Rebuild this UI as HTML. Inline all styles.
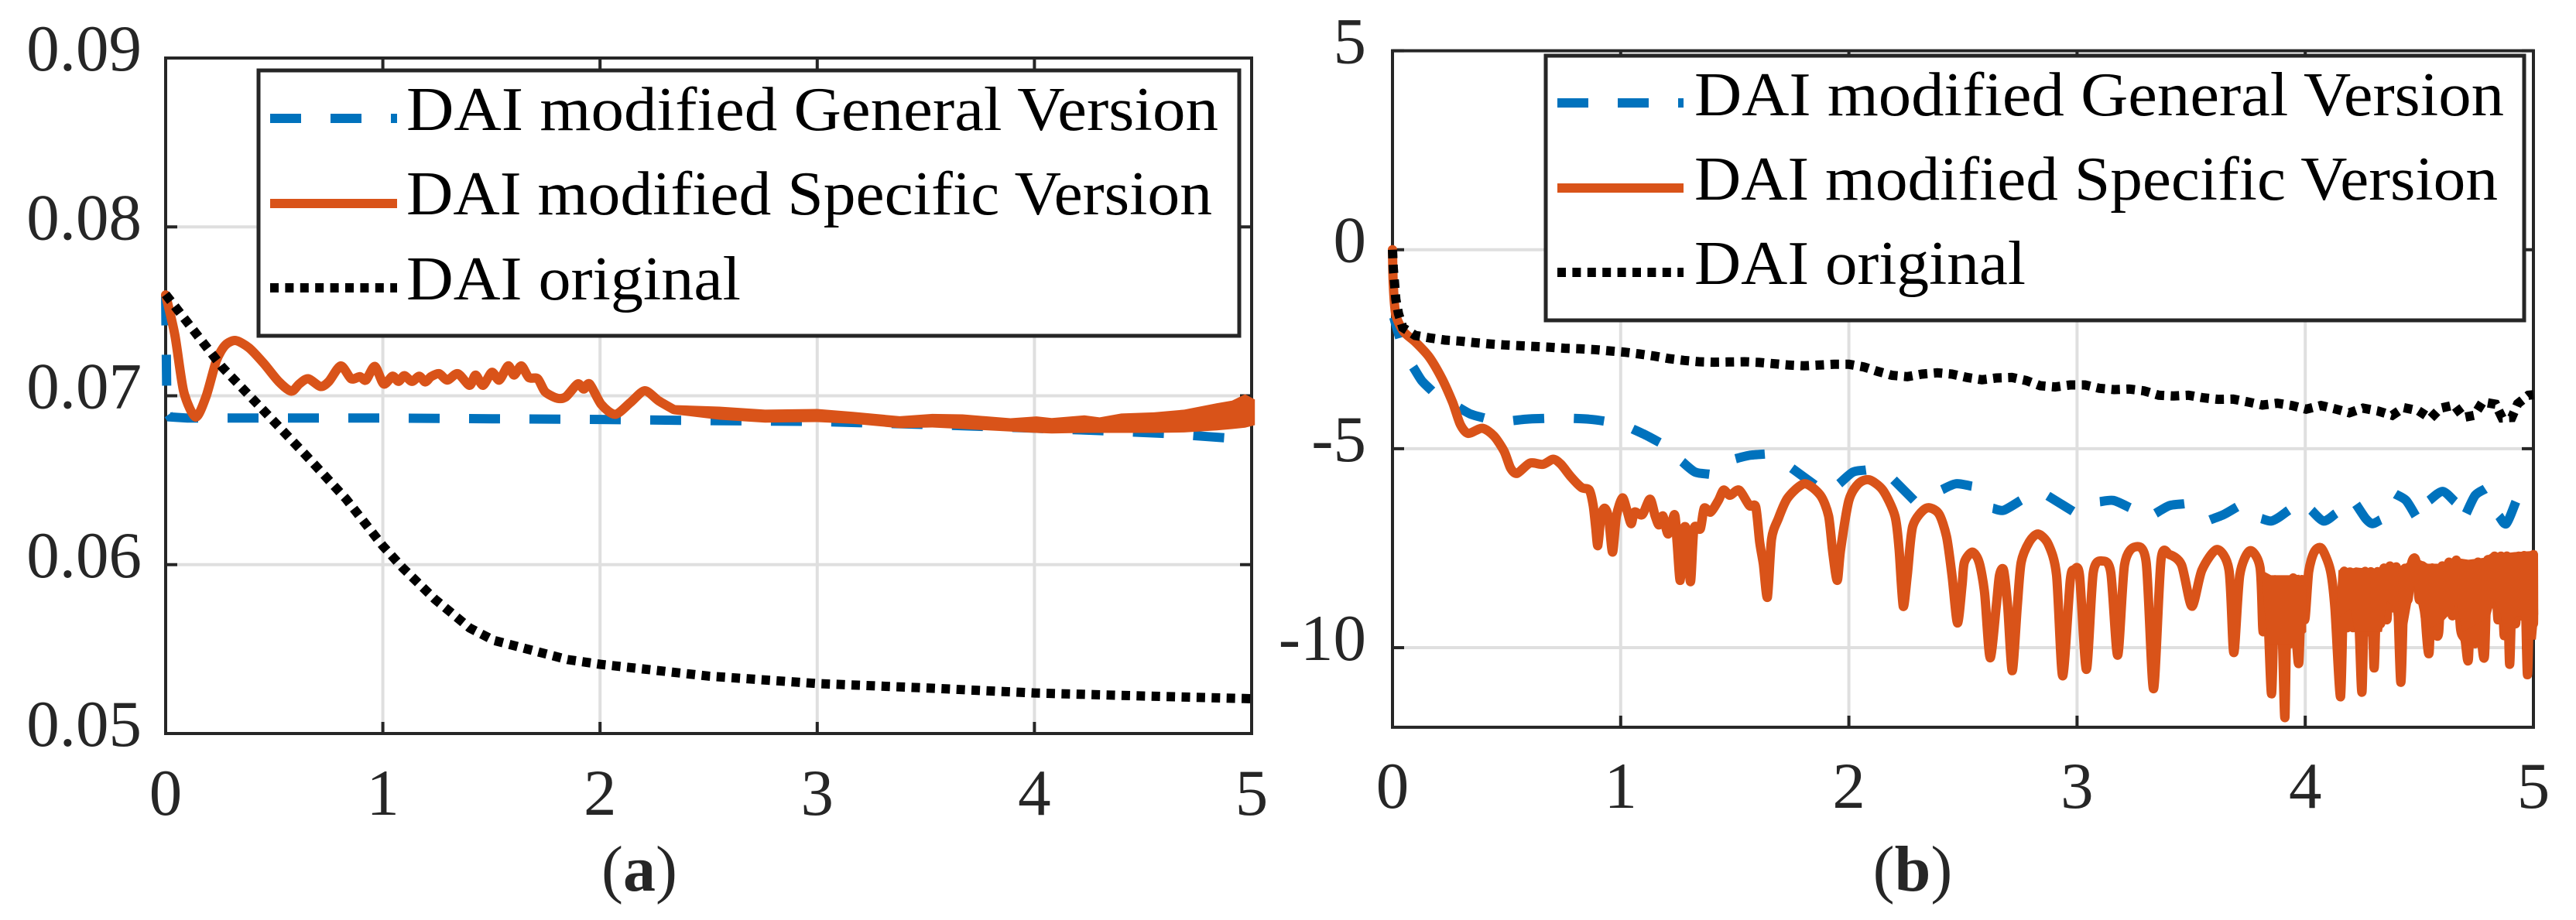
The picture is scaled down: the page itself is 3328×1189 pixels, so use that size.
<!DOCTYPE html>
<html lang="en">
<head>
<meta charset="utf-8">
<title>DAI comparison charts</title>
<style>
html,body{margin:0;padding:0;background:#fff;}
svg{display:block;}
text{font-family:"Liberation Serif",serif;}
.tick{font-size:85px;fill:#262626;}
.leg{font-size:80px;fill:#000;}
.cap{font-size:84px;fill:#262626;}
</style>
</head>
<body>
<svg id="fig" xmlns="http://www.w3.org/2000/svg" width="3328" height="1189" viewBox="0 0 3328 1189">
<g id="panelA"></g>
<g id="panelB"></g>

<g>
<rect x="334" y="91" width="1267" height="343" fill="#fff" stroke="#262626" stroke-width="5"/>
<line x1="349" y1="153" x2="513" y2="153" stroke="#0072BD" stroke-width="12" stroke-dasharray="40 38"/>
<text class="leg" x="525" y="168" textLength="1049" lengthAdjust="spacingAndGlyphs">DAI modified General Version</text>
<line x1="349" y1="263" x2="513" y2="263" stroke="#D95319" stroke-width="12"/>
<text class="leg" x="525" y="277" textLength="1041" lengthAdjust="spacingAndGlyphs">DAI modified Specific Version</text>
<line x1="349" y1="372" x2="513" y2="372" stroke="#000" stroke-width="12" stroke-dasharray="11 8.4"/>
<text class="leg" x="525" y="387" textLength="432" lengthAdjust="spacingAndGlyphs">DAI original</text>
</g>

<g>
<rect x="1997" y="72" width="1264" height="342" fill="#fff" stroke="#262626" stroke-width="5"/>
<line x1="2012" y1="133" x2="2175" y2="133" stroke="#0072BD" stroke-width="12" stroke-dasharray="40 38"/>
<text class="leg" x="2189" y="149" textLength="1046" lengthAdjust="spacingAndGlyphs">DAI modified General Version</text>
<line x1="2012" y1="243" x2="2175" y2="243" stroke="#D95319" stroke-width="12"/>
<text class="leg" x="2189" y="258" textLength="1038" lengthAdjust="spacingAndGlyphs">DAI modified Specific Version</text>
<line x1="2012" y1="352" x2="2175" y2="352" stroke="#000" stroke-width="12" stroke-dasharray="11 8.4"/>
<text class="leg" x="2189" y="367" textLength="428" lengthAdjust="spacingAndGlyphs">DAI original</text>
</g>

<text class="cap" x="826" y="1151" text-anchor="middle">(<tspan font-weight="bold">a</tspan>)</text>
<text class="cap" x="2471" y="1151" text-anchor="middle">(<tspan font-weight="bold">b</tspan>)</text>
</svg>

<script>
var xTicks = [0, 1, 2, 3, 4, 5];
var yTicksA = [0.05, 0.06, 0.07, 0.08, 0.09];
var yTickLabelsA = ["0.05", "0.06", "0.07", "0.08", "0.09"];
var yTicksB = [-10, -5, 0, 5];
var yTickLabelsB = ["-10", "-5", "0", "5"];

var generalA = [[0,.0760],[.006,.0690],[.02,.06875],[.1,.06868],[1,.06868],[2,.0686],[2.5,.06853],[3,.06848],[3.5,.0683],[4,.06808],[4.3,.06794],[4.6,.06777],[4.8,.06758],[5,.0674]];

var specificA = [[0,.07597],[.0425,.0736],[.0834,.07024],[.1379,.06874],[.1857,.06994],[.2334,.07207],[.2743,.07299],[.3221,.07327],[.3834,.07284],[.4516,.07192],[.5198,.07085],[.5785,.07027],[.6153,.0707],[.6562,.07101],[.7135,.07055],[.7517,.07085],[.8062,.07177],[.854,.07101],[.8949,.07113],[.9222,.07093],[.9631,.07174],[1.004,.0707],[1.045,.07116],[1.072,.07085],[1.099,.07119],[1.134,.07085],[1.168,.07116],[1.195,.07082],[1.222,.07113],[1.259,.07131],[1.297,.07093],[1.345,.07131],[1.399,.07062],[1.427,.07123],[1.461,.07062],[1.502,.07139],[1.536,.07093],[1.577,.07177],[1.604,.07123],[1.638,.07177],[1.672,.07108],[1.713,.07101],[1.747,.07024],[1.802,.06986],[1.843,.06994],[1.897,.0707],[1.925,.0704],[1.952,.0707],[2.006,.06948],[2.07,.0689],[2.14,.0696],[2.206,.0703],[2.27,.0697],[2.34,.06918]];

var specificBandUpperA = [[2.34,.06945],[2.55,.06936],[2.76,.06918],[3,.06922],[3.165,.06905],[3.38,.06879],[3.53,.06893],[3.67,.0689],[3.89,.06867],[4.01,.06878],[4.08,.06868],[4.23,.06884],[4.3,.06872],[4.4,.06895],[4.55,.06902],[4.69,.06918],[4.84,.06956],[4.91,.06971],[4.97,.07009],[5.015,.06978]];
var specificBandLowerA = [[2.34,.0689],[2.55,.06858],[2.76,.06841],[3,.06844],[3.165,.06834],[3.38,.06808],[3.53,.06812],[3.67,.06803],[3.89,.06788],[4.01,.0678],[4.08,.06777],[4.23,.0678],[4.3,.0678],[4.4,.0678],[4.55,.0678],[4.69,.06783],[4.84,.06795],[4.91,.06803],[4.97,.06811],[5.015,.06826]];

var originalA = [[0,.0760],[.26,.0717],[.453,.0691],[.64,.06656],[.83,.0639],[1,.06111],[1.09,.05983],[1.24,.05795],[1.4,.05625],[1.51,.05552],[1.85,.05438],[2,.0541],[2.5,.0534],[3,.05296],[3.5,.0527],[4,.0524],[4.5,.05222],[5,.05206]];

var generalB = [[.0056,-1.699],[.0316,-2.218],null,[.0904,-2.944],[.1277,-3.287],[.173,-3.546],null,[.2917,-3.968],[.3426,-4.13],[.4014,-4.227],null,[.5291,-4.292],[.597,-4.253],[.6648,-4.24],null,[.7948,-4.24],[.8627,-4.259],[.9271,-4.305],null,[1.0527,-4.505],[1.1114,-4.661],[1.1703,-4.843],null,[1.2697,-5.329],[1.3263,-5.588],[1.3885,-5.64],null,[1.5038,-5.251],[1.5637,-5.167],[1.6316,-5.134],null,[1.75,-5.491],[1.851,-5.912],null,[1.958,-5.879],[2.018,-5.588],[2.075,-5.536],null,[2.196,-5.782],[2.286,-6.301],null,[2.408,-6.029],[2.47,-5.88],[2.539,-5.944],null,[2.631,-6.495],[2.678,-6.547],[2.753,-6.301],null,[2.872,-6.184],[2.982,-6.573],null,[3.1,-6.333],[3.16,-6.301],[3.231,-6.482],null,[3.344,-6.625],[3.405,-6.43],[3.47,-6.385],null,[3.583,-6.787],[3.642,-6.657],[3.701,-6.463],null,[3.808,-6.755],[3.85,-6.819],[3.885,-6.722],[3.927,-6.547],null,[4.027,-6.547],[4.081,-6.819],[4.134,-6.625],null,[4.223,-6.398],[4.265,-6.755],[4.294,-6.884],[4.33,-6.787],null,[4.395,-6.139],[4.442,-6.301],[4.484,-6.69],null,[4.543,-6.301],[4.602,-6.074],[4.656,-6.333],null,[4.706,-6.625],[4.745,-6.171],[4.789,-6.009],null,[4.849,-6.69],[4.881,-6.884],[4.923,-6.333]];

var specificB = [[0,0],[.0033,-.857],[.0147,-1.635],[.0486,-2.056],[.0995,-2.315],[.1617,-2.704],[.2182,-3.255],[.2634,-3.838],[.2973,-4.389],[.3313,-4.616],[.3934,-4.486],[.4443,-4.68],[.4895,-5.069],[.5178,-5.491],[.5461,-5.62],[.6026,-5.361],[.6592,-5.393],[.7044,-5.264],[.7383,-5.393],[.7835,-5.718],[.8288,-5.977],[.8627,-6.041],[.8796,-6.43],[.891,-7.014],[.9,-7.435],[.9136,-6.69],[.9305,-6.495],[.9475,-6.754],[.9644,-7.597],[.9814,-6.69],[1.0074,-6.236],[1.0266,-6.528],[1.0459,-6.885],[1.0606,-6.592],[1.0945,-6.657],[1.1284,-6.268],[1.151,-6.69],[1.168,-6.916],[1.185,-6.69],[1.208,-7.143],[1.236,-6.657],[1.247,-7.338],[1.261,-8.31],[1.275,-7.078],[1.289,-7.078],[1.306,-8.342],[1.321,-7.014],[1.349,-7.014],[1.366,-6.495],[1.394,-6.592],[1.428,-6.301],[1.451,-6.041],[1.479,-6.171],[1.519,-6.041],[1.564,-6.43],[1.592,-6.463],[1.609,-7.338],[1.625,-7.9],[1.643,-8.731],[1.661,-7.273],[1.691,-6.755],[1.732,-6.236],[1.806,-5.879],[1.875,-6.171],[1.911,-6.69],[1.929,-7.597],[1.949,-8.31],[1.964,-7.532],[2,-6.301],[2.042,-5.879],[2.089,-5.782],[2.149,-6.042],[2.202,-6.69],[2.22,-7.532],[2.238,-8.958],[2.256,-8.18],[2.28,-6.949],[2.339,-6.495],[2.393,-6.625],[2.428,-7.208],[2.452,-8.18],[2.476,-9.379],[2.496,-8.44],[2.506,-7.856],[2.541,-7.597],[2.571,-7.856],[2.595,-8.634],[2.619,-10.254],[2.646,-8.958],[2.66,-8.18],[2.678,-8.051],[2.696,-8.958],[2.716,-10.578],[2.738,-8.958],[2.755,-7.856],[2.791,-7.338],[2.829,-7.143],[2.874,-7.403],[2.91,-8.18],[2.937,-10.708],[2.97,-8.31],[2.987,-8.051],[3.011,-8.18],[3.041,-10.546],[3.071,-8.115],[3.112,-7.824],[3.148,-8.115],[3.178,-10.19],[3.208,-7.921],[3.255,-7.467],[3.303,-7.856],[3.335,-11.032],[3.368,-7.791],[3.405,-7.662],[3.458,-7.921],[3.503,-8.958],[3.547,-8.051],[3.613,-7.532],[3.666,-8.051],[3.687,-10.124],[3.713,-8.18],[3.757,-7.564],[3.802,-7.986],[3.815,-9.6],[3.83,-8.3],[3.852,-11.16],[3.867,-8.31],[3.878,-9.7],[3.888,-8.3],[3.9,-9.8],[3.911,-11.745],[3.922,-8.4],[3.935,-9.9],[3.947,-8.25],[3.958,-9.5],[3.972,-10.38],[3.985,-8.3],[3.998,-9.3],[4.015,-8.1],[4.039,-7.6],[4.071,-7.5],[4.11,-8.05],[4.13,-9],[4.155,-11.23],[4.17,-8.1],[4.183,-9.5],[4.196,-8.1],[4.21,-9.5],[4.224,-8.1],[4.237,-9.6],[4.249,-11.1],[4.262,-8.1],[4.275,-9.6],[4.288,-8.1],[4.302,-10.51],[4.316,-8.1],[4.33,-9.4],[4.345,-8],[4.358,-9.3],[4.371,-7.95],[4.385,-9],[4.4,-8],[4.419,-10.87],[4.435,-8.05],[4.45,-8.8],[4.465,-7.9],[4.484,-7.8],[4.5,-8.8],[4.515,-7.95],[4.528,-9.4],[4.543,-10.12],[4.556,-8],[4.57,-9.5],[4.585,-9.6],[4.6,-7.95],[4.615,-9],[4.63,-7.85],[4.645,-9.2],[4.662,-7.8],[4.68,-9.5],[4.7,-9.8],[4.715,-10.29],[4.73,-8.2],[4.745,-9.9],[4.757,-7.85],[4.772,-9.7],[4.786,-10.19],[4.8,-7.8],[4.815,-8.9],[4.83,-7.7],[4.845,-9.3],[4.858,-7.7],[4.872,-9.7],[4.884,-7.7],[4.896,-10.42],[4.91,-7.75],[4.922,-9.4],[4.935,-7.7],[4.947,-9.2],[4.96,-7.7],[4.974,-10.68],[4.987,-7.7],[5,-9.4],[5,-7.66]];

var specificBandEarlyB = [[3.808,-8.051],[3.85,-8.18],[3.945,-8.18],[3.974,-8.167],[4.004,-8.5],[4.004,-9.606],[3.945,-9.93],[3.838,-9.93],[3.82,-8.958]];

var specificBandUpperB = [[4.146,-8.051],[4.229,-7.986],[4.336,-8.051],[4.371,-7.856],[4.425,-7.953],[4.478,-7.727],[4.537,-7.889],[4.602,-7.889],[4.656,-7.739],[4.715,-7.791],[4.786,-7.739],[4.822,-7.597],[4.869,-7.629],[4.917,-7.597],[5.015,-7.565]];
var specificBandLowerB = [[4.134,-9.282],[4.199,-9.023],[4.217,-9.606],[4.336,-9.606],[4.359,-8.828],[4.383,-8.958],[4.395,-9.606],[4.448,-9.411],[4.478,-8.439],[4.502,-9.088],[4.514,-9.606],[4.602,-9.347],[4.644,-9.088],[4.662,-8.861],[4.691,-9.606],[4.81,-9.217],[4.828,-8.828],[4.857,-9.152],[4.869,-9.8],[4.923,-9.217],[4.946,-9.217],[4.952,-9.8],[5.011,-9.8],[5.021,-9.152]];

var originalB = [[0,0],[.0034,-.468],[.009,-.857],[.0147,-1.246],[.026,-1.602],[.0452,-1.958],[.0995,-2.153],[.165,-2.218],[.2295,-2.27],[.295,-2.295],[.3595,-2.334],[.425,-2.367],[.492,-2.393],[.5574,-2.412],[.623,-2.432],[.69,-2.451],[.755,-2.477],[.821,-2.49],[.885,-2.509],[.951,-2.542],[1.016,-2.574],[1.083,-2.62],[1.148,-2.672],[1.213,-2.736],[1.278,-2.782],[1.343,-2.814],[1.409,-2.827],[1.474,-2.821],[1.542,-2.814],[1.607,-2.833],[1.673,-2.866],[1.738,-2.898],[1.804,-2.918],[1.869,-2.898],[1.935,-2.879],[2,-2.879],[2.065,-2.944],[2.128,-3.06],[2.19,-3.157],[2.256,-3.19],[2.321,-3.125],[2.387,-3.093],[2.452,-3.125],[2.518,-3.209],[2.583,-3.268],[2.646,-3.222],[2.714,-3.209],[2.777,-3.287],[2.839,-3.417],[2.904,-3.449],[2.97,-3.397],[3.035,-3.397],[3.098,-3.482],[3.162,-3.514],[3.228,-3.501],[3.293,-3.546],[3.358,-3.657],[3.423,-3.676],[3.488,-3.657],[3.553,-3.721],[3.618,-3.76],[3.684,-3.754],[3.749,-3.825],[3.812,-3.903],[3.877,-3.857],[3.942,-3.916],[4.004,-4.006],[4.069,-3.916],[4.132,-4],[4.193,-4.097],[4.253,-3.981],[4.318,-4.052],[4.381,-4.162],[4.431,-3.968],[4.496,-4.045],[4.549,-4.24],[4.593,-3.981],[4.653,-3.903],[4.694,-4.214],[4.741,-4.162],[4.777,-3.825],[4.834,-3.883],[4.863,-4.227],[4.905,-4.214],[4.931,-3.87],[4.978,-3.657],[5,-3.644]];

var NS = 'http://www.w3.org/2000/svg';

function mk(parent, tag, attrs) {
  var el = document.createElementNS(NS, tag);
  for (var k in attrs) el.setAttribute(k, attrs[k]);
  parent.appendChild(el);
  return el;
}

function segmentPath(pts, smooth) {
  var d = 'M' + pts[0][0].toFixed(1) + ' ' + pts[0][1].toFixed(1);
  for (var i = 1; i < pts.length; i++) {
    var p1 = pts[i - 1], p2 = pts[i];
    if (smooth) {
      var p0 = pts[i - 2] || p1, p3 = pts[i + 1] || p2, k = 0.13;
      d += 'C' + (p1[0] + (p2[0] - p0[0]) * k).toFixed(1) + ' ' + (p1[1] + (p2[1] - p0[1]) * k).toFixed(1) + ' ' +
        (p2[0] - (p3[0] - p1[0]) * k).toFixed(1) + ' ' + (p2[1] - (p3[1] - p1[1]) * k).toFixed(1) + ' ' +
        p2[0].toFixed(1) + ' ' + p2[1].toFixed(1);
    } else {
      d += 'L' + p2[0].toFixed(1) + ' ' + p2[1].toFixed(1);
    }
  }
  return d;
}

function drawPanel(g, box, yDomain, yTicks, yLabels, labelRight, xLabelBase, series) {
  function sx(t) { return box.left + (t - xTicks[0]) / (xTicks[xTicks.length - 1] - xTicks[0]) * (box.right - box.left); }
  function sy(v) { return box.bottom - (v - yDomain[0]) / (yDomain[1] - yDomain[0]) * (box.bottom - box.top); }

  xTicks.forEach(function (t) {
    if (t === xTicks[0] || t === xTicks[xTicks.length - 1]) return;
    var l = mk(g, 'line', {x1: sx(t), x2: sx(t), y1: box.top, y2: box.bottom, stroke: '#dfdfdf', 'stroke-width': 4});
    
    
  });
  yTicks.forEach(function (v) {
    if (v === yDomain[0] || v === yDomain[1]) return;
    var l = mk(g, 'line', {x1: box.left, x2: box.right, y1: sy(v), y2: sy(v), stroke: '#dfdfdf', 'stroke-width': 4});
    
    
  });

  var frame = mk(g, 'rect', {x: box.left, y: box.top, width: box.right - box.left, height: box.bottom - box.top, fill: 'none', stroke: '#262626', 'stroke-width': 4});
  
  

  xTicks.forEach(function (t) {
    var bottomTick = mk(g, 'line', {x1: sx(t), x2: sx(t), y1: box.bottom, y2: box.bottom - 15, stroke: '#262626', 'stroke-width': 4});
    
    
    var topTick = mk(g, 'line', {x1: sx(t), x2: sx(t), y1: box.top, y2: box.top + 15, stroke: '#262626', 'stroke-width': 4});
    
    
    var label = mk(g, 'text', {x: sx(t), y: xLabelBase, 'text-anchor': 'middle', 'class': 'tick'});
    label.textContent = String(t);
    
    
  });

  yTicks.forEach(function (v, i) {
    var leftTick = mk(g, 'line', {x1: box.left, x2: box.left + 15, y1: sy(v), y2: sy(v), stroke: '#262626', 'stroke-width': 4});
    
    
    var rightTick = mk(g, 'line', {x1: box.right, x2: box.right - 15, y1: sy(v), y2: sy(v), stroke: '#262626', 'stroke-width': 4});
    
    
    var label = mk(g, 'text', {x: labelRight, y: sy(v) + 16, 'text-anchor': 'end', 'class': 'tick'});
    label.textContent = yLabels[i];
    
    
  });

  series.forEach(function (s) {
    var d = '', run = [];
    s.data.forEach(function (p) {
      if (p === null) {
        d += segmentPath(run, s.smooth);
        run = [];
      } else {
        run.push([sx(p[0]), sy(p[1])]);
      }
    });
    if (run.length) d += segmentPath(run, s.smooth);
    if (s.band) d += 'Z';
    var path = mk(g, 'path', {d: d, fill: s.band ? s.color : 'none', stroke: s.band ? 'none' : s.color, 'stroke-linejoin': s.butt ? 'miter' : 'round', 'stroke-linecap': s.butt ? 'butt' : 'round'});
    if (!s.band) path.setAttribute('stroke-width', s.width);
    if (s.dash) path.setAttribute('stroke-dasharray', s.dash);
    
    
  });
}

drawPanel(document.getElementById('panelA'),
  {left: 214, right: 1617, top: 75, bottom: 948},
  [0.05, 0.09], yTicksA, yTickLabelsA, 183, 1053,
  [
    {name: 'line-a-general', data: generalA, color: '#0072BD', width: 12, dash: '40 38', butt: true},
    {name: 'line-a-specific', data: specificA, color: '#D95319', width: 12, smooth: true},
    {name: 'band-a-specific', data: specificBandUpperA.concat(specificBandLowerA.slice().reverse()), color: '#D95319', band: true},
    {name: 'line-a-original', data: originalA, color: '#000', width: 12, dash: '11 8.4', butt: true}
  ]);

drawPanel(document.getElementById('panelB'),
  {left: 1799, right: 3273, top: 65.6, bottom: 939.9},
  [-12, 5], yTicksB, yTickLabelsB, 1765, 1044,
  [
    {name: 'line-b-general', data: generalB, color: '#0072BD', width: 12, butt: true, smooth: true},
    {name: 'line-b-specific', data: specificB, color: '#D95319', width: 12, smooth: true},
    {name: 'band-b-specific-early', data: specificBandEarlyB, color: '#D95319', band: true},
    {name: 'band-b-specific-late', data: specificBandUpperB.concat(specificBandLowerB.slice().reverse()), color: '#D95319', band: true},
    {name: 'line-b-original', data: originalB, color: '#000', width: 12, dash: '11 8.4', butt: true}
  ]);
</script>
</body>
</html>
